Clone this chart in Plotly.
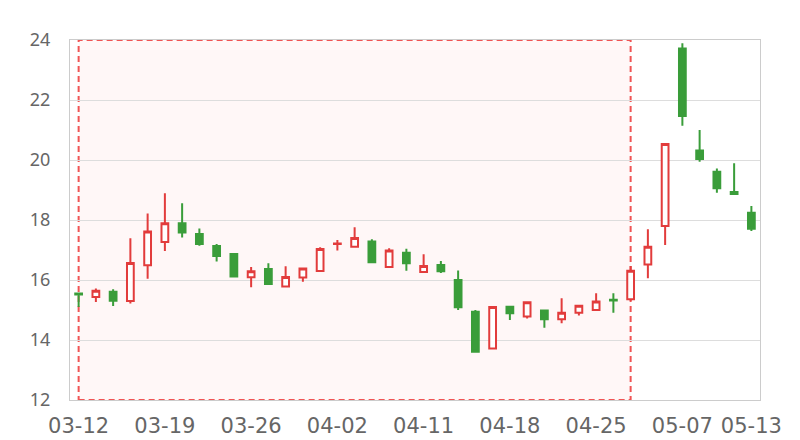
import plotly.graph_objects as go

dates = ["03-12", "03-13", "03-14", "03-15", "03-18", "03-19", "03-20", "03-21", "03-22", "03-25",
         "03-26", "03-27", "03-28", "03-29", "04-01", "04-02", "04-03", "04-04", "04-08", "04-10",
         "04-11", "04-12", "04-15", "04-16", "04-17", "04-18", "04-19", "04-22", "04-23", "04-24",
         "04-25", "04-26", "04-29", "04-30", "05-06", "05-07", "05-08", "05-09", "05-10", "05-13"]

open_ = [15.55, 15.43, 15.61, 15.30, 16.49, 17.27, 17.89, 17.53, 17.13, 16.87,
         16.09, 16.37, 15.78, 16.08, 16.30, 17.20, 17.11, 17.28, 16.43, 16.91,
         16.27, 16.50, 16.00, 14.94, 13.72, 15.11, 14.78, 14.98, 14.69, 14.91,
         15.00, 15.34, 15.36, 16.52, 17.80, 23.72, 20.32, 19.61, 18.93, 18.24]
high = [15.57, 15.72, 15.69, 17.39, 18.22, 18.89, 18.56, 17.72, 17.20, 16.87,
        16.43, 16.56, 16.46, 16.38, 17.09, 17.33, 17.76, 17.36, 17.06, 17.04,
        16.86, 16.63, 16.32, 15.00, 15.10, 15.11, 15.26, 14.98, 15.39, 15.14,
        15.56, 15.56, 16.47, 17.69, 20.53, 23.89, 21.00, 19.72, 19.89, 18.47]
low = [15.10, 15.27, 15.13, 15.22, 16.04, 16.97, 17.42, 17.14, 16.62, 16.12,
       15.76, 15.87, 15.78, 15.94, 16.30, 16.98, 17.11, 16.59, 16.43, 16.31,
       16.27, 16.23, 15.00, 13.61, 13.72, 14.67, 14.72, 14.41, 14.56, 14.82,
       15.00, 14.91, 15.31, 16.06, 17.17, 21.14, 19.94, 18.91, 18.87, 17.63]
close = [15.52, 15.64, 15.31, 16.57, 17.62, 17.89, 17.58, 17.20, 16.80, 16.12,
         16.29, 15.87, 16.10, 16.38, 17.03, 17.22, 17.40, 16.59, 16.98, 16.56,
         16.47, 16.29, 15.09, 13.61, 15.10, 14.89, 15.26, 14.69, 14.91, 15.14,
         15.28, 15.32, 16.31, 17.11, 20.53, 21.47, 20.03, 19.06, 18.87, 17.71]

x_tick_labels = ["03-12", "03-19", "03-26", "04-02", "04-11", "04-18", "04-25", "05-07", "05-13"]
y_ticks = [12, 14, 16, 18, 20, 22, 24]
mark_start, mark_end = "03-12", "04-29"

RED = "#e23c3c"
GREEN = "#3a9d3a"

fig = go.Figure()
fig.add_trace(go.Candlestick(
    x=dates, open=open_, high=high, low=low, close=close,
    increasing=dict(line=dict(color=RED, width=2), fillcolor="#ffffff"),
    decreasing=dict(line=dict(color=GREEN, width=2), fillcolor=GREEN),
    whiskerwidth=0,
    showlegend=False,
))

fig.add_shape(
    type="rect", xref="x", yref="y",
    x0=mark_start, x1=mark_end, y0=y_ticks[0], y1=y_ticks[-1],
    line=dict(color="#f05454", width=2, dash="6px,4px"),
    fillcolor="rgba(255,60,60,0.04)",
    layer="below",
)

fig.update_layout(
    width=792, height=432,
    margin=dict(l=62, r=40, t=32, b=40, autoexpand=False),
    plot_bgcolor="#ffffff", paper_bgcolor="#ffffff",
    boxgap=0.44,
    showlegend=False,
)
fig.update_xaxes(
    type="category", categoryorder="array", categoryarray=dates,
    rangeslider=dict(visible=False),
    tickmode="array", tickvals=x_tick_labels, ticktext=x_tick_labels,
    showgrid=False, ticks="", automargin=False,
    showline=True, linecolor="#cccccc", linewidth=1, mirror=True,
    tickfont=dict(family="DejaVu Sans", size=21, color="#666666"),
    ticklabelstandoff=7,
)
fig.update_yaxes(
    range=[y_ticks[0], y_ticks[-1]], tickvals=y_ticks, automargin=False,
    showgrid=True, gridcolor="#dddddd", gridwidth=1, zeroline=False, ticks="",
    showline=True, linecolor="#cccccc", linewidth=1, mirror=True,
    tickfont=dict(family="Noto Sans", size=18, color="#666666"),
    ticklabelstandoff=15,
)

fig.write_html("out.html")
